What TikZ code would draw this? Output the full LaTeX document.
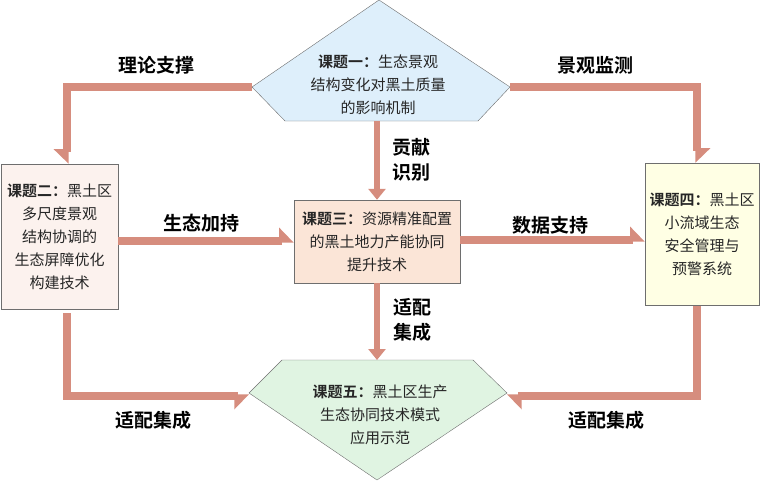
\documentclass[tikz,border=0pt]{standalone}
\usepackage{fontspec}
\setmainfont{Noto Sans CJK SC}[BoldFont={Noto Sans CJK SC Bold}]
\usetikzlibrary{arrows.meta}

\definecolor{linkred}{RGB}{214,141,126}
\definecolor{blueT}{RGB}{222,239,251}
\definecolor{pinkT}{RGB}{252,242,238}
\definecolor{peachT}{RGB}{251,229,215}
\definecolor{yellowT}{RGB}{255,255,228}
\definecolor{greenT}{RGB}{224,244,226}
\definecolor{edgegray}{RGB}{110,110,110}

\tikzset{
  topic/.style={font=\fontsize{15}{23}\selectfont, align=center, text=black!85},
  tag/.style={font=\fontsize{19}{25}\selectfont\bfseries, align=center},
  link/.style={draw=linkred, line width=8pt},
  half/.style={-{Triangle[harpoon, length=13pt, width=26pt]}},
  halfswap/.style={-{Triangle[harpoon, swap, length=13pt, width=26pt]}},
  full/.style={line width=6.5pt, -{Triangle[length=11pt, width=17pt]}}
}

\begin{document}
\begin{tikzpicture}[x=1pt, y=-1pt]
            \useasboundingbox (0,0) rectangle (760,482);

            % corners of the two pentagons
            \coordinate (P1t) at (379,0);
            \coordinate (P1l) at (252,87);
            \coordinate (P1bl) at (285,121);
            \coordinate (P1br) at (478,121);
            \coordinate (P1r) at (510,87);
            \coordinate (P5tl) at (282,360);
            \coordinate (P5tr) at (473,360);
            \coordinate (P5r) at (507,393);
            \coordinate (P5b) at (377,480);
            \coordinate (P5l) at (249,393);
            \draw [draw=edgegray, thin, fill=blueT] (P1t) -- (P1r) -- (P1br) -- (P1bl) -- (P1l) -- cycle;
            \draw [draw=edgegray, thin, fill=greenT] (P5tl) -- (P5tr) -- (P5r) -- (P5b) -- (P5l) -- cycle;

            \begin{scope}[every node/.style={topic}]
                \node (T1) at (378,85) {\textbf{课题一：}生态景观\\结构变化对黑土质量\\的影响机制};
                \node (T2) [draw=edgegray, thin, fill=pinkT, minimum width=117pt, minimum height=145pt] at (59.5,236.5) {\textbf{课题二：}黑土区\\多尺度景观\\结构协调的\\生态屏障优化\\构建技术};
                \node (T3) [draw=edgegray, thin, fill=peachT, minimum width=166pt, minimum height=83pt] at (377,241.5) {\textbf{课题三：}资源精准配置\\的黑土地力产能协同\\提升技术};
                \node (T4) [draw=edgegray, thin, fill=yellowT, minimum width=114pt, minimum height=142pt] at (702,234) {\textbf{课题四：}黑土区\\小流域生态\\安全管理与\\预警系统};
                \node (T5) at (380,415) {\textbf{课题五：}黑土区生产\\生态协同技术模式\\应用示范};
            \end{scope}

            \begin{scope}[every path/.style={link}]
                \path [halfswap] (P1l) -| ([xshift=7.5pt]T2.north);
                \path [half] (P1r) -| ([xshift=-5pt]T4.north);
                \path [full] (P1bl -| T3.north) -- (T3.north);
                \path [half] (T2.east |- 0,241) -- (T3.west |- 0,241);
                \path [half] (T3.east |- 0,240) -- (T4.west |- 0,240);
                \path [full] (T3.south) -- (T3.south |- P5tl);
                \path [halfswap] ([xshift=7.5pt, yshift=-4pt]T2.south) |- ([yshift=-3pt]P5l);
                \path [half] ([xshift=-5pt, yshift=-1pt]T4.south) |- ([yshift=-3pt]P5r);
            \end{scope}

            \begin{scope}[every node/.style={tag}]
                \node (L12) at (156,65) {理论支撑};
                \node (L14) at (595,65) {景观监测};
                \node (L13) at (411,160) {贡献\\识别};
                \node (L23) at (201,223) {生态加持};
                \node (L34) at (550,225) {数据支持};
                \node (L35) at (412,320) {适配\\集成};
                \node (L25) at (153,420) {适配集成};
                \node (L45) at (606,420) {适配集成};
            \end{scope}
        \end{tikzpicture}
\end{document}
